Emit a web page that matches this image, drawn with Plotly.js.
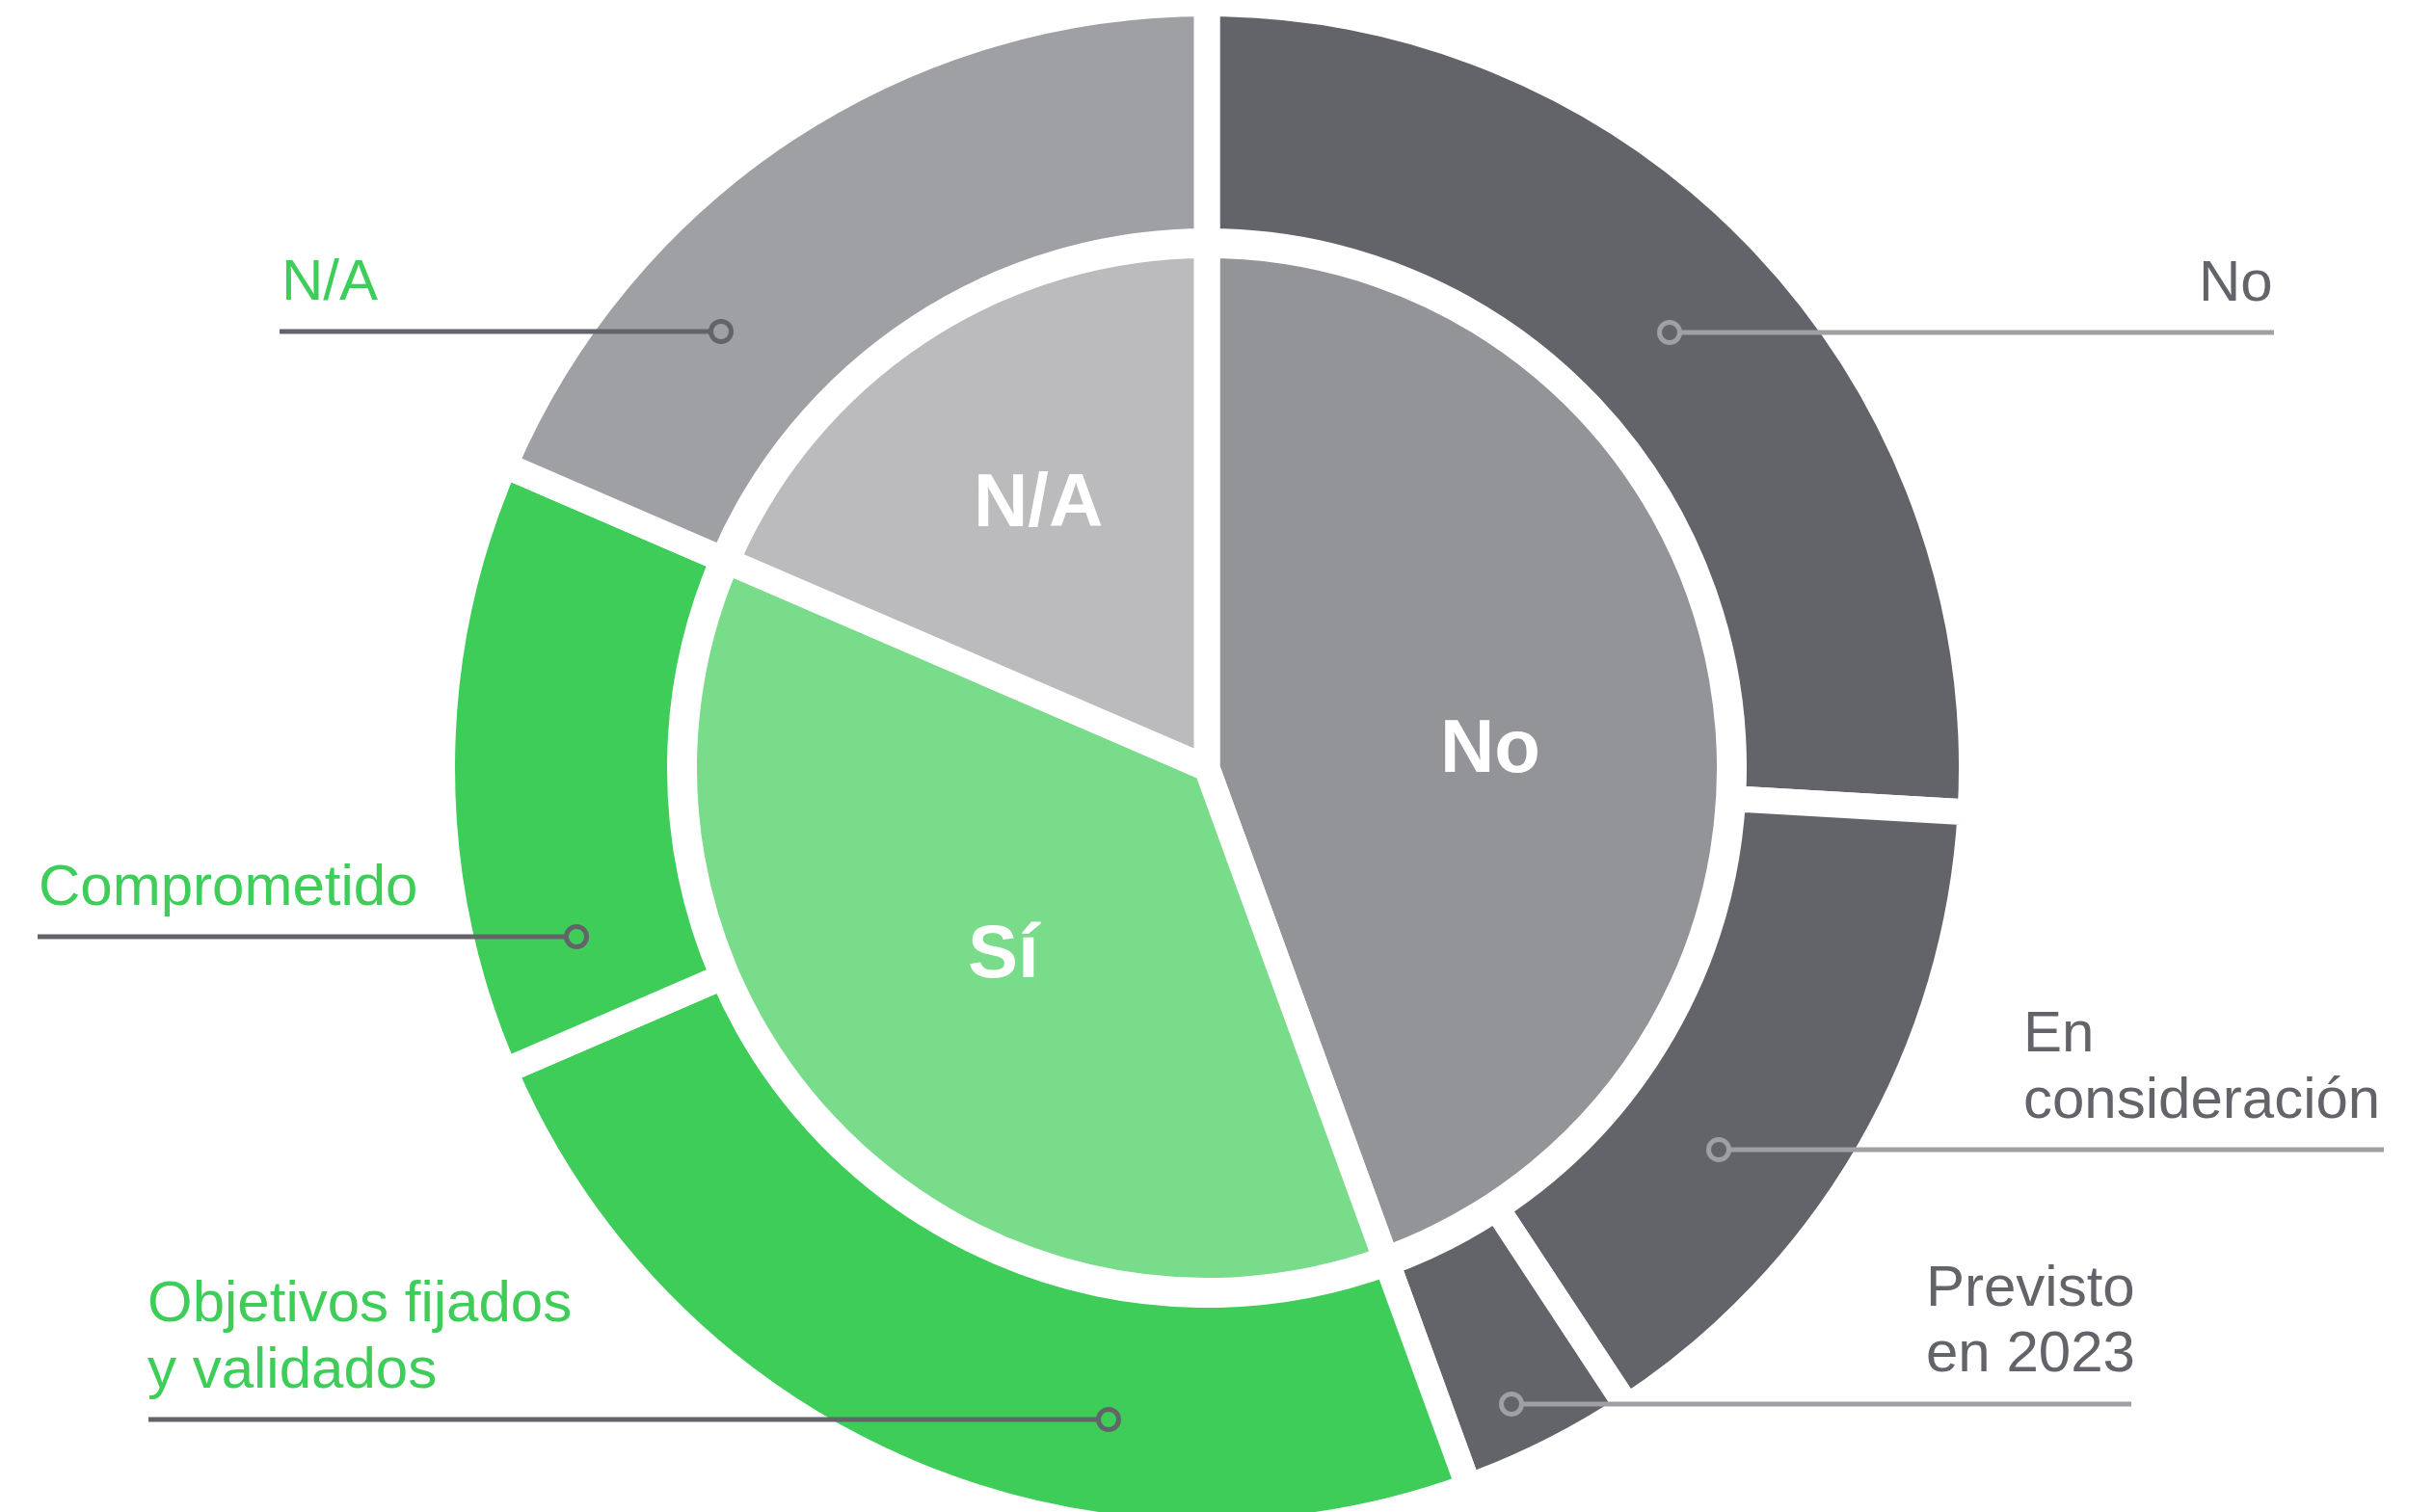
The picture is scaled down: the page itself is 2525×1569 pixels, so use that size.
<!DOCTYPE html>
<html>
<head>
<meta charset="utf-8">
<script src="https://cdn.plot.ly/plotly-3.0.1.min.js"></script>
<style>
  html, body { margin: 0; padding: 0; overflow: hidden; background: #ffffff; }
  #wrap { width: 2525px; height: 1569px; overflow: hidden; position: relative; }
  #chart { width: 2525px; height: 1600px; }
</style>
</head>
<body>
<div id="wrap"><div id="chart"></div></div>
<script>
// ---- Data ----
const innerLabels = ['No', 'Sí', 'N/A'];
const innerValues = [24, 20, 10];
const innerColors = ['#939498', '#78dc8a', '#bbbbbd'];

const outerLabels = ['No', 'En consideración', 'Previsto en 2023', 'Objetivos fijados y validados', 'Comprometido', 'N/A'];
const outerValues = [14, 8, 2, 13, 7, 10];
const outerColors = ['#626469', '#626469', '#626469', '#3dcd58', '#3dcd58', '#9fa0a4'];

// label text lines for the outer ring callouts
const outerLabelLines = [['No'], ['En', 'consideración'], ['Previsto', 'en 2023'], ['Objetivos fijados', 'y validados'], ['Comprometido'], ['N/A']];

// ---- Layout helpers (pixel -> paper) ----
const W = 2525, H = 1600;
const px = x => x / W;
const py = y => 1 - y / H;

const CX = 1252, CY = 797;       // pie centre (pixels from top-left)
const GAP = 27;                  // white separator width
const R_OUT = 793.5, R_HOLE = 546.5, R_IN = 542.5;

function domainFor(r) {
  return { x: [px(CX - r), px(CX + r)], y: [py(CY + r), py(CY - r)] };
}

const font = 'Liberation Sans, Arial, Helvetica, sans-serif';

const traces = [
  {
    type: 'pie',
    labels: outerLabels,
    values: outerValues,
    sort: false,
    direction: 'clockwise',
    rotation: 0,
    hole: R_HOLE / R_OUT,
    domain: domainFor(R_OUT),
    marker: { colors: outerColors, line: { color: '#ffffff', width: GAP } },
    textinfo: 'none',
    hoverinfo: 'label+value',
    showlegend: false
  },
  {
    type: 'pie',
    labels: innerLabels,
    values: innerValues,
    sort: false,
    direction: 'clockwise',
    rotation: 0,
    domain: domainFor(R_IN),
    marker: { colors: innerColors, line: { color: '#ffffff', width: GAP } },
    textinfo: 'none',
    hoverinfo: 'label+value',
    showlegend: false
  }
];

// callout geometry for each outer slice (pixels): text anchor + leader line
const GREEN = '#3dcd58', DARK = '#626469', LIGHT = '#9fa0a4';
const callouts = [
  // No
  { side: 'right', tx: 2358, ty: [291], lineY: 345, lineEnd: 2359, dotX: 1732, textColor: DARK, lineColor: LIGHT },
  // En consideración
  { side: 'left', tx: 2099, ty: [1070, 1139], lineY: 1193, lineEnd: 2473, dotX: 1783, textColor: DARK, lineColor: LIGHT },
  // Previsto en 2023
  { side: 'left', tx: 1998, ty: [1334, 1402], lineY: 1457, lineEnd: 2211, dotX: 1568, textColor: DARK, lineColor: LIGHT },
  // Objetivos fijados y validados
  { side: 'left', tx: 153, ty: [1350, 1419], lineY: 1473, lineEnd: 154, dotX: 1150, textColor: GREEN, lineColor: DARK },
  // Comprometido
  { side: 'left', tx: 40, ty: [918], lineY: 972, lineEnd: 39, dotX: 598, textColor: GREEN, lineColor: DARK },
  // N/A
  { side: 'left', tx: 292, ty: [290], lineY: 344, lineEnd: 290, dotX: 748, textColor: GREEN, lineColor: DARK }
];

const DOT_R = 10.5;
const annotations = [];
const shapes = [];

callouts.forEach((c, i) => {
  outerLabelLines[i].forEach((line, j) => {
    annotations.push({
      xref: 'paper', yref: 'paper',
      x: px(c.tx), y: py(c.ty[j]),
      xanchor: c.side === 'right' ? 'right' : 'left',
      yanchor: 'middle',
      text: line,
      showarrow: false,
      borderpad: 0, borderwidth: 0,
      font: { family: font, size: 60, color: c.textColor }
    });
  });
  const toRight = c.lineEnd > c.dotX;
  const startX = toRight ? c.dotX + DOT_R : c.dotX - DOT_R;
  shapes.push({
    type: 'line', xref: 'paper', yref: 'paper',
    x0: px(startX), x1: px(c.lineEnd), y0: py(c.lineY), y1: py(c.lineY),
    line: { color: c.lineColor, width: 5 }
  });
  shapes.push({
    type: 'circle', xref: 'paper', yref: 'paper',
    x0: px(c.dotX - DOT_R), x1: px(c.dotX + DOT_R),
    y0: py(c.lineY + DOT_R), y1: py(c.lineY - DOT_R),
    fillcolor: 'rgba(0,0,0,0)',
    line: { color: c.lineColor, width: 5 }
  });
});

// inner pie labels (white, bold)
const innerLabelPos = [[1546, 774], [1042, 987], [1077, 519]];
innerLabels.forEach((lab, i) => {
  annotations.push({
    xref: 'paper', yref: 'paper',
    x: px(innerLabelPos[i][0]), y: py(innerLabelPos[i][1]),
    xanchor: 'center', yanchor: 'middle',
    text: '<b>' + lab + '</b>',
    showarrow: false,
    borderpad: 0, borderwidth: 0,
    font: { family: font, size: 78, color: '#ffffff' }
  });
});

const layout = {
  width: W, height: H,
  margin: { l: 0, r: 0, t: 0, b: 0, pad: 0 },
  paper_bgcolor: '#ffffff',
  plot_bgcolor: '#ffffff',
  showlegend: false,
  annotations: annotations,
  shapes: shapes
};

Plotly.newPlot('chart', traces, layout, { displayModeBar: false, staticPlot: true });
</script>
</body>
</html>
